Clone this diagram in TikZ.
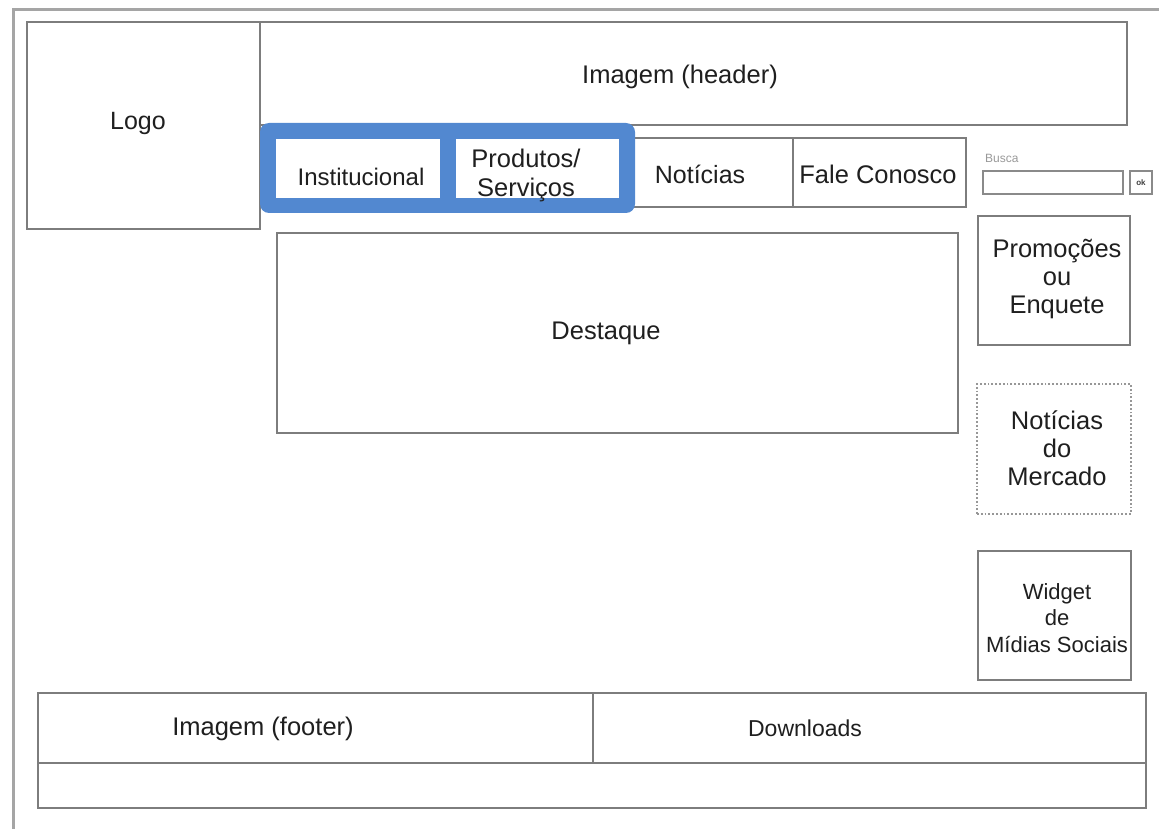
\documentclass[tikz,border=0pt]{standalone}
\usepackage{fontspec}
\setmainfont{Liberation Sans}
\definecolor{framegray}{RGB}{165,165,165}
\definecolor{boxgray}{RGB}{125,125,125}
\definecolor{navblue}{RGB}{82,136,208}
\begin{document}
\begin{tikzpicture}[x=1pt,y=-1pt,
  box/.style={draw=boxgray,line width=1.8pt,fill=white,inner sep=0pt,outer sep=0pt,
    align=center,font=\fontsize{25}{28}\selectfont},
  dotbox/.style={box,draw=boxgray!80,dotted,line width=2pt},
  txt/.style={inner sep=0pt,align=center,yshift=-3pt,text=black!88,font=\fontsize{25.5}{28}\selectfont}]
\useasboundingbox (0,0) rectangle (1159,829);
% outer frame (top and left edges)
\draw[framegray,line width=3pt] (13,829) -- (13,10) -- (1159,10);
% logo and header
\node[box,minimum width=233pt,minimum height=207pt] (logo) at (143.5,125.5) {};
\node[txt,font=\fontsize{25}{28}\selectfont] (logot) at (138,120) {Logo};
\node[box,minimum width=867pt,minimum height=103pt] (header) at (693.5,73.5) {};
\node[txt] (headert) at (680,74) {Imagem (header)};
% navigation row
\node[box,minimum width=174pt,minimum height=69pt] (noticias) at (706,172.5) {};
\node[txt,font=\fontsize{25}{28}\selectfont] (noticiast) at (700,171) {Notícias};
\node[box,minimum width=173pt,minimum height=69pt] (fale) at (879.5,172.5) {};
\node[txt] (falet) at (878,171) {Fale Conosco};
\draw[boxgray,line width=1.8pt] (noticias.north west) -- ++(-20,0);
\draw[boxgray,line width=1.8pt] (noticias.south west) -- ++(-20,0);
% highlighted group
\fill[navblue,rounded corners=9pt] (260,123) rectangle (635,213);
\node[fill=white,inner sep=0pt,minimum width=164pt,minimum height=59pt] (inst) at (358,168.5) {};
\node[txt,font=\fontsize{24}{28}\selectfont] (instt) at (361,174) {Institucional};
\node[fill=white,inner sep=0pt,minimum width=163pt,minimum height=59pt] (prod) at (537.5,168.5) {};
\node[txt,font=\fontsize{25.5}{29}\selectfont] (prodt) at (526,172) {Produtos/\\Serviços};
% search
\node[inner sep=0pt,anchor=west,text=gray!80,font=\fontsize{12}{14}\selectfont] (buscal) at (985,158) {Busca};
\node[box,draw=boxgray!90,line width=1.5pt,minimum width=140pt,minimum height=23pt] (busca) at (1053,182.5) {};
\node[box,draw=boxgray!90,line width=1.5pt,minimum width=22pt,minimum height=23pt,text=black!75,font=\fontsize{8}{9}\selectfont\bfseries] (ok) at (1141,182.5) {ok};
% content
\node[box,minimum width=681pt,minimum height=200pt] (destaque) at (617.5,333) {};
\node[txt] (destaquet) at (606,330) {Destaque};
\node[box,minimum width=152pt,minimum height=129pt] (promo) at (1054,280.5) {};
\node[txt] (promot) at (1057,276) {Promoções\\ou\\Enquete};
\node[dotbox,minimum width=154pt,minimum height=130pt] (mercado) at (1054,449) {};
\node[txt] (mercadot) at (1057,445) {Notícias\\do\\Mercado};
\node[box,minimum width=153pt,minimum height=129pt] (widget) at (1054.5,615.5) {};
\node[txt,font=\fontsize{22}{26.5}\selectfont] (widgett) at (1057,615) {Widget\\de\\Mídias Sociais};
% footer
\node[box,minimum width=555pt,minimum height=70pt] (footl) at (315.5,728) {};
\node[txt] (footlt) at (263,726) {Imagem (footer)};
\node[box,minimum width=553pt,minimum height=70pt] (footr) at (869.5,728) {};
\node[txt,font=\fontsize{23}{26}\selectfont] (footrt) at (805,725) {Downloads};
\node[box,minimum width=1108pt,minimum height=45pt] (footb) at (592,785.5) {};
\end{tikzpicture}
\end{document}
